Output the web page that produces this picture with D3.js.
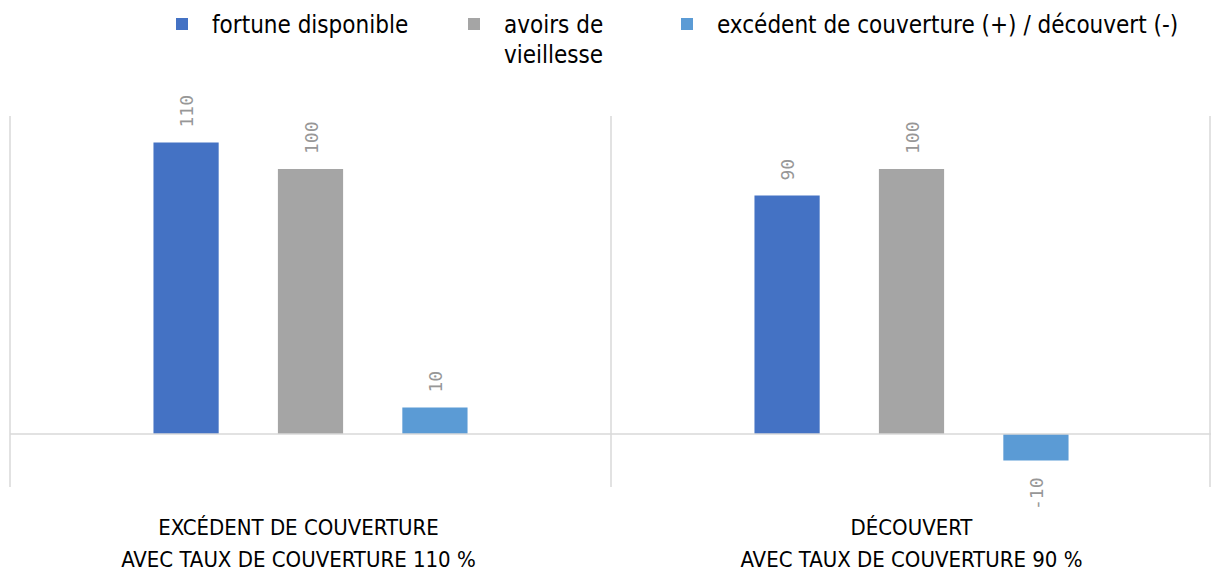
<!DOCTYPE html>
<html>
<head>
<meta charset="utf-8">
<script src="https://cdn.jsdelivr.net/npm/d3@7"></script>
<style>
  body { margin: 0; background: #fff; }
  text { font-family: "DejaVu Sans Condensed", "DejaVu Sans", sans-serif; }
</style>
</head>
<body>
<svg id="chart" width="1211" height="575"></svg>
<script>
const categories = [
  ["EXCÉDENT DE COUVERTURE", "AVEC TAUX DE COUVERTURE 110 %"],
  ["DÉCOUVERT", "AVEC TAUX DE COUVERTURE 90 %"]
];
const seriesNames = [["fortune disponible"], ["avoirs de", "vieillesse"], ["excédent de couverture (+) / découvert (-)"]];
const fortune = [110, 90];
const avoirs = [100, 100];
const excedent = [10, -10];
const colors = ["#4472C4", "#A5A5A5", "#5B9BD5"];

const values = [fortune, avoirs, excedent];
const data = categories.map((c, i) => ({
  cat: i,
  label: c,
  vals: values.map((s, k) => ({ k: k, v: s[i] }))
}));

const svg = d3.select("#chart");
const width = 1211;

const y = d3.scaleLinear().domain([-20, 120]).range([487, 116]);

const x0 = d3.scaleBand()
  .domain(data.map(d => d.cat))
  .range([10, width + 1])
  .padding(0);

const x1 = d3.scaleBand()
  .domain([0, 1, 2])
  .range([0, x0.bandwidth()])
  .paddingInner(0.476)
  .paddingOuter(1.153);

const grid = "#d9d9d9";

// vertical separators
svg.append("g").selectAll("line")
  .data([0, 1, 2])
  .join("line")
  .attr("x1", d => d < 2 ? x0(d) : width - 1)
  .attr("x2", d => d < 2 ? x0(d) : width - 1)
  .attr("y1", y(120))
  .attr("y2", y(-20))
  .attr("stroke", grid)
  .attr("stroke-width", 1.5);

// bars
const groups = svg.append("g").selectAll("g")
  .data(data)
  .join("g")
  .attr("transform", d => `translate(${x0(d.cat)},0)`);

groups.selectAll("rect")
  .data(d => d.vals)
  .join("rect")
  .attr("x", d => x1(d.k))
  .attr("width", x1.bandwidth())
  .attr("y", d => y(Math.max(0, d.v)))
  .attr("height", d => Math.abs(y(d.v) - y(0)))
  .attr("fill", d => colors[d.k]);

// value labels, rotated
groups.selectAll("text.val")
  .data(d => d.vals)
  .join("text")
  .attr("class", "val")
  .attr("transform", d => {
    const cx = x1(d.k) + x1.bandwidth() / 2;
    const yy = d.v >= 0 ? y(d.v) - 15 : y(d.v) + 17;
    return `translate(${cx + 7},${yy}) rotate(-90)`;
  })
  .attr("text-anchor", d => d.v >= 0 ? "start" : "end")
  .attr("fill", "#979797")
  .style("font-family", "'DejaVu Sans Mono', monospace")
  .style("font-size", "18px")
  .text(d => d.v);

// zero line
svg.append("line")
  .attr("x1", 10)
  .attr("x2", width)
  .attr("y1", y(0))
  .attr("y2", y(0))
  .attr("stroke", grid)
  .attr("stroke-width", 1.5);

// category labels
const catText = svg.append("g").selectAll("text")
  .data(data)
  .join("text")
  .attr("text-anchor", "middle")
  .attr("fill", "#000")
  .style("font-size", "22px");
catText.selectAll("tspan")
  .data(d => d.label.map(l => ({ l: l, x: x0(d.cat) + x0.bandwidth() / 2 - (d.cat === 0 ? 12 : 0) })))
  .join("tspan")
  .attr("x", d => d.x)
  .attr("y", (d, i) => 535 + i * 32)
  .text(d => d.l);

// legend
const legendX = [176, 468, 681];
const leg = svg.append("g").selectAll("g")
  .data(seriesNames)
  .join("g")
  .attr("transform", (d, i) => `translate(${legendX[i]},0)`);
leg.append("rect")
  .attr("x", 0).attr("y", 18)
  .attr("width", 12).attr("height", 12)
  .attr("fill", (d, i) => colors[i]);
const lt = leg.append("text")
  .style("font-size", "24px")
  .attr("fill", "#000");
lt.selectAll("tspan")
  .data(d => d)
  .join("tspan")
  .attr("x", 36)
  .attr("y", (d, i) => 33 + i * 30)
  .text(d => d);
</script>
</body>
</html>
